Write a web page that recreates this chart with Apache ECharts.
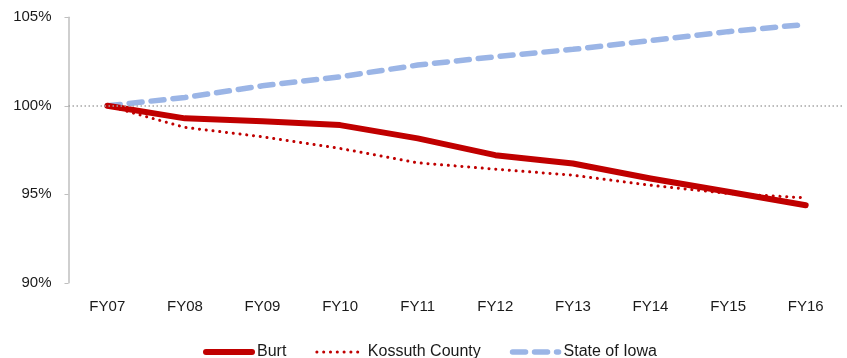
<!DOCTYPE html>
<html>
<head>
<meta charset="utf-8">
<script src="https://cdn.jsdelivr.net/npm/echarts@6/dist/echarts.min.js"></script>
<style>
  html, body { margin: 0; padding: 0; background: #ffffff; }
  #chart { width: 847px; height: 358px; }
</style>
</head>
<body>
<div id="chart"></div>
<script>
// Fiscal years on the category axis
const categories = ['FY07', 'FY08', 'FY09', 'FY10', 'FY11', 'FY12', 'FY13', 'FY14', 'FY15', 'FY16'];

// Index values, FY07 = 100%
const burt = [100, 99.29, 99.13, 98.91, 98.16, 97.21, 96.74, 95.89, 95.14, 94.38];
const kossuthCounty = [100, 98.78, 98.25, 97.59, 96.78, 96.42, 96.08, 95.51, 95.05, 94.8];
const stateOfIowa = [100, 100.47, 101.13, 101.64, 102.3, 102.77, 103.19, 103.68, 104.19, 104.6];

// Value axis range and baseline
const yMin = 90;
const yMax = 105;
const yStep = 5;
const baseline = 100;

const FONT = '"Liberation Sans", Arial, sans-serif';
const TEXT_COLOR = '#1a1a1a';
const RED = '#c00000';
const BLUE = '#9bb5e6';

const burtLine = { color: RED, width: 6, cap: 'round', join: 'round' };
const kossuthLine = { color: RED, width: 3, type: [0.1, 6.7], cap: 'round' };
const iowaLine = { color: BLUE, width: 5.5, type: [13, 9], cap: 'round' };

const chart = echarts.init(document.getElementById('chart'), null, { renderer: 'canvas' });

chart.setOption({
  animation: false,
  backgroundColor: '#ffffff',
  grid: { left: 68.5, right: 2.5, top: 17.3, bottom: 75.2, containLabel: false },
  legend: {
    left: 198,
    top: 339,
    itemWidth: 46,
    itemHeight: 14,
    itemGap: 29,
    itemStyle: { opacity: 0 },
    textStyle: { fontFamily: FONT, fontSize: 16, color: TEXT_COLOR },
    data: [
      { name: 'Burt', lineStyle: burtLine },
      { name: 'Kossuth County', lineStyle: kossuthLine },
      { name: 'State of Iowa', lineStyle: iowaLine }
    ]
  },
  xAxis: {
    type: 'category',
    data: categories,
    boundaryGap: true,
    axisLine: { show: false },
    axisTick: { show: false },
    splitLine: { show: false },
    axisLabel: { margin: 17, fontFamily: FONT, fontSize: 15, color: TEXT_COLOR }
  },
  yAxis: {
    type: 'value',
    min: yMin,
    max: yMax,
    interval: yStep,
    axisLine: { show: true, lineStyle: { color: '#bfbfbf', width: 1.5 } },
    axisTick: { show: true, length: 4, inside: false, lineStyle: { color: '#bfbfbf', width: 1 } },
    splitLine: { show: false },
    axisLabel: {
      margin: 17,
      fontFamily: FONT,
      fontSize: 15,
      color: TEXT_COLOR,
      formatter: '{value}%'
    }
  },
  series: [
    {
      name: 'Burt',
      type: 'line',
      data: burt,
      symbol: 'none',
      z: 4,
      lineStyle: burtLine,
      itemStyle: { color: RED },
      markLine: {
        silent: true,
        symbol: 'none',
        label: { show: false },
        lineStyle: { color: '#a6a6a6', width: 1.5, type: [1.5, 2.5] },
        data: [{ yAxis: baseline }]
      }
    },
    {
      name: 'Kossuth County',
      type: 'line',
      data: kossuthCounty,
      symbol: 'none',
      z: 3,
      lineStyle: kossuthLine,
      itemStyle: { color: RED }
    },
    {
      name: 'State of Iowa',
      type: 'line',
      data: stateOfIowa,
      symbol: 'none',
      z: 2,
      lineStyle: iowaLine,
      itemStyle: { color: BLUE }
    }
  ]
});
</script>
</body>
</html>
